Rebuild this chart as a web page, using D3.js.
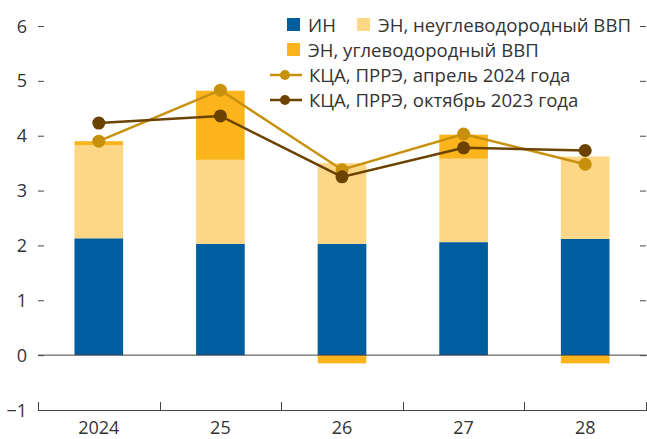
<!DOCTYPE html>
<html>
<head>
<meta charset="utf-8">
<script src="https://cdn.jsdelivr.net/npm/d3@7"></script>
<style>
  body { margin: 0; background: #fff; }
  svg text { font-family: "Open Sans", Roboto, sans-serif; fill: #333; }
</style>
</head>
<body>
<div id="chart"></div>
<script>
// data
const years = ["2024", "25", "26", "27", "28"];
const inflation = [2.13, 2.03, 2.03, 2.06, 2.12];          // ИН
const nonOilGdp = [1.70, 1.53, 1.47, 1.52, 1.50];          // ЭН, неуглеводородный ВВП
const oilGdp = [0.07, 1.26, -0.15, 0.44, -0.15];           // ЭН, углеводородный ВВП
const apr2024 = [3.90, 4.83, 3.38, 4.03, 3.48];            // КЦА, ПРРЭ, апрель 2024 года
const oct2023 = [4.23, 4.36, 3.25, 3.78, 3.73];            // КЦА, ПРРЭ, октябрь 2023 года
const yTicks = [-1, 0, 1, 2, 3, 4, 5, 6];

const width = 647, height = 439;
const colors = { inf: "#005d9e", nonOil: "#fdd686", oil: "#fbb41c", apr: "#c8910d", oct: "#6b4200" };

const svg = d3.select("#chart").append("svg")
    .attr("width", width)
    .attr("height", height);

const x = d3.scaleBand().domain(years).range([38, 646]);
const y = d3.scaleLinear().domain([-1, 6]).range([410, 26]);
const barW = x.bandwidth() * 0.4;

const rows = years.map((yr, i) => ({ year: yr, inf: inflation[i], nonOil: nonOilGdp[i], oil: oilGdp[i] }));
const keys = ["inf", "nonOil", "oil"];
const series = d3.stack().keys(keys).offset(d3.stackOffsetDiverging)(rows);

// bars
svg.append("g")
    .selectAll("g")
    .data(series)
    .enter().append("g")
    .attr("fill", d => colors[d.key])
    .selectAll("rect")
    .data(d => d)
    .enter().append("rect")
    .attr("x", d => x(d.data.year) + (x.bandwidth() - barW) / 2)
    .attr("y", d => y(Math.max(d[0], d[1])))
    .attr("height", d => Math.abs(y(d[0]) - y(d[1])))
    .attr("width", barW);

// zero line
svg.append("line")
    .attr("x1", 38).attr("x2", 647)
    .attr("y1", y(0)).attr("y2", y(0))
    .attr("stroke", "#444").attr("stroke-width", 1);

// left ticks and labels
const yAxis = svg.append("g")
    .attr("transform", "translate(38,0)")
    .call(d3.axisLeft(y).tickValues(yTicks).tickSize(-6).tickPadding(11)
        .tickFormat(d => d < 0 ? "\u2212" + Math.abs(d) : d));
yAxis.select(".domain").remove();
yAxis.selectAll("line").attr("stroke", "#444");
yAxis.selectAll("text").attr("font-size", 18).attr("dy", "0.34em");

// right ticks, no labels
const yAxisR = svg.append("g")
    .attr("transform", "translate(646,0)")
    .call(d3.axisLeft(y).tickValues(yTicks.slice(1)).tickSize(6).tickFormat(""));
yAxisR.select(".domain").remove();
yAxisR.selectAll("line").attr("stroke", "#444");

// bottom axis with ticks between categories
const bottom = svg.append("g");
bottom.append("line")
    .attr("x1", 38).attr("x2", 646)
    .attr("y1", y(-1) + 0.5).attr("y2", y(-1) + 0.5)
    .attr("stroke", "#444");
const bounds = years.map(d => x(d)).concat([x(years[years.length - 1]) + x.bandwidth()]);
bottom.selectAll(".sep")
    .data(bounds)
    .enter().append("line")
    .attr("x1", d => Math.round(d) + 0.5).attr("x2", d => Math.round(d) + 0.5)
    .attr("y1", y(-1) - 8).attr("y2", y(-1) + 1)
    .attr("stroke", "#444");
bottom.selectAll(".lbl")
    .data(years)
    .enter().append("text")
    .attr("x", d => x(d) + x.bandwidth() / 2)
    .attr("y", 434)
    .attr("text-anchor", "middle")
    .attr("font-size", 18)
    .text(d => d);

// lines
const line = d3.line()
    .x((d, i) => x(years[i]) + x.bandwidth() / 2)
    .y(d => y(d));

[[apr2024, colors.apr], [oct2023, colors.oct]].forEach(([vals, c]) => {
    svg.append("path")
        .datum(vals)
        .attr("fill", "none")
        .attr("stroke", c)
        .attr("stroke-width", 2.5)
        .attr("d", line);
    svg.append("g")
        .selectAll("circle")
        .data(vals)
        .enter().append("circle")
        .attr("cx", (d, i) => x(years[i]) + x.bandwidth() / 2)
        .attr("cy", d => y(d))
        .attr("r", 6.5)
        .attr("fill", c);
});

// legend
const legend = svg.append("g").attr("font-size", 18.6);
const square = (lx, ly, c, label) => {
    legend.append("rect").attr("x", lx).attr("y", ly - 7).attr("width", 13).attr("height", 13).attr("fill", c);
    legend.append("text").attr("x", lx + 21).attr("y", ly).attr("dy", "0.35em").text(label);
};
const lineItem = (ly, c, label) => {
    legend.append("line").attr("x1", 270).attr("x2", 302).attr("y1", ly).attr("y2", ly)
        .attr("stroke", c).attr("stroke-width", 2.5);
    legend.append("circle").attr("cx", 285).attr("cy", ly).attr("r", 5).attr("fill", c);
    legend.append("text").attr("x", 309).attr("y", ly).attr("dy", "0.35em").text(label);
};
square(287, 25, colors.inf, "ИН");
square(357, 25, colors.nonOil, "ЭН, неуглеводородный ВВП");
square(287, 50, colors.oil, "ЭН, углеводородный ВВП");
lineItem(75, colors.apr, "КЦА, ПРРЭ, апрель 2024 года");
lineItem(100, colors.oct, "КЦА, ПРРЭ, октябрь 2023 года");
</script>
</body>
</html>
